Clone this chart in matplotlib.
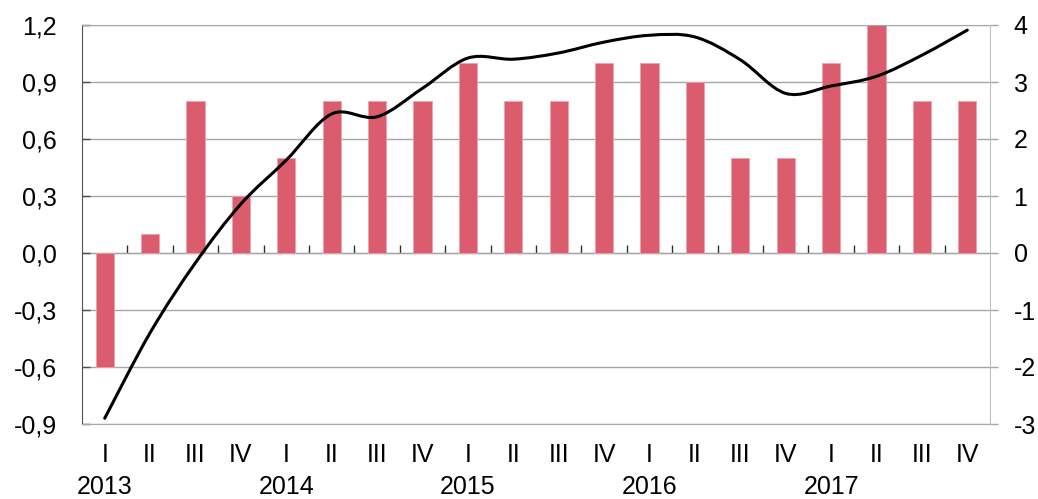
import matplotlib.pyplot as plt
import numpy as np
from matplotlib.path import Path
from matplotlib.patches import PathPatch

plt.rcParams['font.family'] = ['Liberation Sans', 'DejaVu Sans']
plt.rcParams['font.size'] = 18

# data
quarters = ['I', 'II', 'III', 'IV'] * 5
years = ['2013', '2014', '2015', '2016', '2017']
bars = [-0.6, 0.1, 0.8, 0.3,
        0.5, 0.8, 0.8, 0.8,
        1.0, 0.8, 0.8, 1.0,
        1.0, 0.9, 0.5, 0.5,
        1.0, 1.2, 0.8, 0.8]
line = [-2.9, -1.4, -0.17, 0.86,
        1.63, 2.44, 2.39, 2.89,
        3.42, 3.40, 3.51, 3.70,
        3.82, 3.79, 3.39, 2.80,
        2.93, 3.10, 3.47, 3.91]
left_ticks = [-0.9, -0.6, -0.3, 0.0, 0.3, 0.6, 0.9, 1.2]
left_labels = ['-0,9', '-0,6', '-0,3', '0,0', '0,3', '0,6', '0,9', '1,2']
right_ticks = [-3, -2, -1, 0, 1, 2, 3, 4]
right_labels = ['-3', '-2', '-1', '0', '1', '2', '3', '4']

bar_color = '#da5c6d'
grid_color = '#a6a6a6'
dark = '#505050'

x = np.arange(len(bars))

fig, ax = plt.subplots(figsize=(10.38, 4.99))
fig.subplots_adjust(left=82/1038, right=990/1038, top=1-25/499, bottom=1-424/499)

ax.bar(x, bars, width=0.4, color=bar_color, edgecolor='#eba3ad', linewidth=0.6, zorder=2)
ax.set_xlim(-0.5, len(bars) - 0.5)
ax.set_ylim(left_ticks[0], left_ticks[-1])
ax.set_yticks(left_ticks)
ax.set_yticklabels(left_labels)
ax.yaxis.grid(True, color=grid_color, linewidth=1)
ax.set_axisbelow(True)
ax.tick_params(axis='y', direction='in', length=6, width=1, color=dark, pad=18)

# quarter labels, year under each first quarter
xlabels = []
for i, q in enumerate(quarters):
    if q == 'I':
        xlabels.append(q + '\n' + years[i // 4])
    else:
        xlabels.append(q)
ax.set_xticks(x)
ax.set_xticklabels(xlabels)
for lab in ax.get_xticklabels():
    lab.set_linespacing(1.4)
ax.tick_params(axis='x', length=0, pad=14)

ax.spines['left'].set_color(dark)
ax.spines['top'].set_color(grid_color)
ax.spines['bottom'].set_color(grid_color)
ax.spines['right'].set_visible(False)

# zero line with category tick marks
zero_pos = (0 - left_ticks[0]) / (left_ticks[-1] - left_ticks[0])
sec = ax.secondary_xaxis(zero_pos)
sec.set_xticks(np.arange(0.5, len(bars) - 1, 1))
sec.set_xticklabels([])
sec.tick_params(direction='in', length=6, width=1, color='#303030')
sec.spines['bottom'].set_color('#303030')

# right axis with smoothed line
ax2 = ax.twinx()
ax2.set_ylim(right_ticks[0], right_ticks[-1])
ax2.set_yticks(right_ticks)
ax2.set_yticklabels(right_labels)
ax2.tick_params(axis='y', direction='out', length=6, width=1, color=grid_color, pad=11)
for s in ['left', 'top', 'bottom']:
    ax2.spines[s].set_visible(False)
ax2.spines['right'].set_color('#c0c0c0')

pts = np.column_stack([x, line]).astype(float)
n = len(pts)
verts = [pts[0]]
codes = [Path.MOVETO]
for i in range(n - 1):
    p0 = pts[max(i - 1, 0)]
    p1 = pts[i]
    p2 = pts[i + 1]
    p3 = pts[min(i + 2, n - 1)]
    verts += [p1 + (p2 - p0) / 6, p2 - (p3 - p1) / 6, p2]
    codes += [Path.CURVE4] * 3
ax2.add_patch(PathPatch(Path(verts, codes), facecolor='none', edgecolor='black',
                        linewidth=2.2, capstyle='round', zorder=3))

fig.savefig('out.png', dpi=100)
